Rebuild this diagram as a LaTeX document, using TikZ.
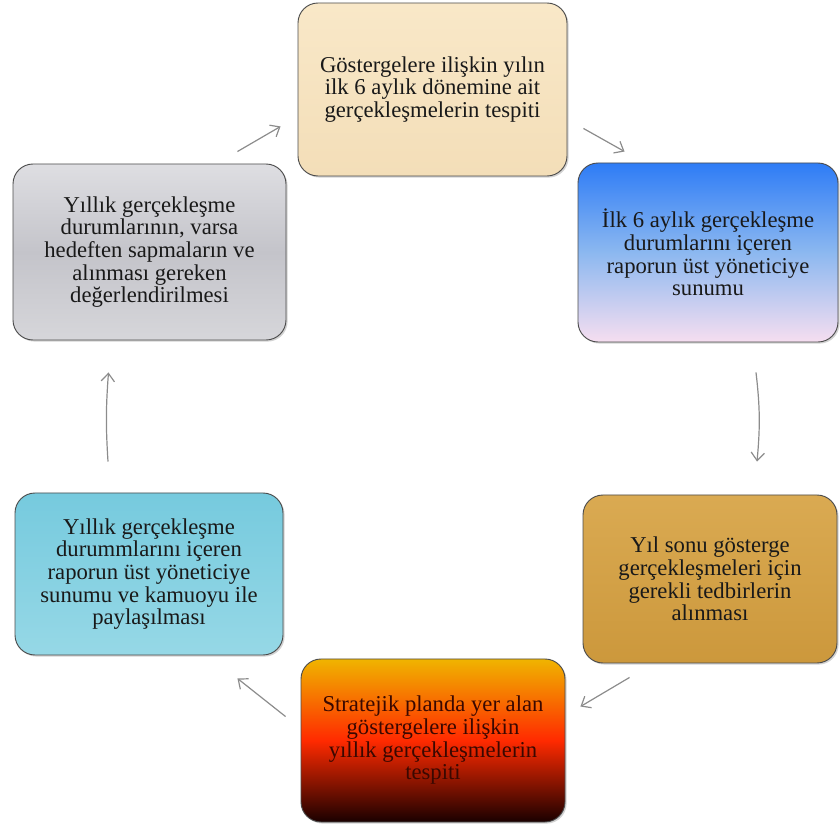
\documentclass[tikz,border=0pt]{standalone}
\usepackage{fontspec}
\setmainfont{Liberation Serif}
\usetikzlibrary{arrows.meta, shadows}

\begin{document}
\begin{tikzpicture}[x=0.75pt, y=-0.75pt,
	box/.style={draw=black!70, line width=0.7pt, rounded corners=15pt, align=center,
		font=\fontsize{17}{17}\selectfont, text=black!90,
		drop shadow={shadow xshift=1.2pt, shadow yshift=-1.2pt, opacity=0.35}},
	flow/.style={color=black!45, line width=0.9pt, -{Straight Barb[length=6pt,width=10pt]}}]
	\useasboundingbox (0,0) rectangle (840,830);

	\node[box, minimum width=201.75pt, minimum height=129.75pt,
		top color={rgb,255:red,249;green,232;blue,200}, bottom color={rgb,255:red,243;green,222;blue,184}]
		(g1) at (432.5,89.5) {Göstergelere ilişkin yılın\\ilk 6 aylık dönemine ait\\gerçekleşmelerin tespiti};
	\node[box, minimum width=195pt, minimum height=134.25pt,
		top color={rgb,255:red,46;green,124;blue,246}, bottom color={rgb,255:red,246;green,222;blue,240},
		middle color={rgb,255:red,140;green,184;blue,240}]
		(g2) at (708,252.5) {İlk 6 aylık gerçekleşme\\durumlarını içeren\\raporun üst yöneticiye\\sunumu};
	\node[box, minimum width=190.5pt, minimum height=126pt,
		top color={rgb,255:red,218;green,170;blue,82}, bottom color={rgb,255:red,204;green,152;blue,60}]
		(g4) at (710,579) {Yıl sonu gösterge\\gerçekleşmeleri için\\gerekli tedbirlerin\\alınması};
	\node[box, minimum width=198pt, minimum height=122.25pt, text={rgb,255:red,58;green,8;blue,0},
		top color={rgb,255:red,240;green,180;blue,0}, bottom color={rgb,255:red,26;green,0;blue,0},
		middle color={rgb,255:red,255;green,42;blue,0}]
		(g3) at (433,740.5) {Stratejik planda yer alan\\göstergelere ilişkin\\yıllık gerçekleşmelerin\\tespiti};
	\node[box, minimum width=201pt, minimum height=121.5pt,
		top color={rgb,255:red,118;green,202;blue,222}, bottom color={rgb,255:red,150;green,216;blue,230}]
		(g5) at (149,574) {Yıllık gerçekleşme\\durummlarını içeren\\raporun üst yöneticiye\\sunumu ve kamuoyu ile\\paylaşılması};
	\node[box, minimum width=204.75pt, minimum height=132pt,
		top color={rgb,255:red,222;green,222;blue,226}, bottom color={rgb,255:red,214;green,214;blue,218},
		middle color={rgb,255:red,196;green,196;blue,202}]
		(g6) at (149.5,252) {Yıllık gerçekleşme\\durumlarının, varsa\\hedeften sapmaların ve\\alınması gereken\\değerlendirilmesi};

	\path [flow]
		([shift={(16,-48)}]g1.south east) edge ([shift={(47,-11)}]g2.north west)
		([shift={(48,30)}]g2.south) edge[bend left=6] ([shift={(47,-33)}]g4.north)
		([shift={(47,14)}]g4.south west) edge ([shift={(15,48)}]g3.north east)
		([shift={(-15,58)}]g3.north west) edge ([shift={(-46,23)}]g5.south east)
		([shift={(-41,-31)}]g5.north) edge[bend left=4] ([shift={(-41,32)}]g6.south)
		([shift={(-49,-12)}]g6.north east) edge ([shift={(-17,-50)}]g1.south west)
		;
\end{tikzpicture}
\end{document}
